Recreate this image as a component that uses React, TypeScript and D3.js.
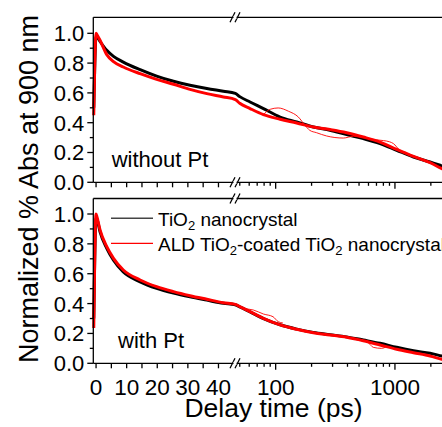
import React, { useRef, useEffect } from 'react'
import { select, scaleLinear, scaleLog, line, curveMonotoneX } from 'd3'

const fitTimes = [-0.75, 0, 0.3, 1.3, 3.5, 5.7, 8.9, 14.4, 19.8, 25.3, 30.7, 36.2, 41.6, 45.5,
  50, 61, 79, 109, 150, 207, 285, 394, 543, 750, 1034, 1430, 1970, 2470, 3200]

// without Pt
const topBlack = [0.5, 0.97, 0.975, 0.945, 0.886, 0.845, 0.807, 0.756, 0.713, 0.678, 0.651, 0.629, 0.611, 0.597,
  0.575, 0.539, 0.495, 0.438, 0.405, 0.371, 0.349, 0.32, 0.293, 0.26, 0.215, 0.17, 0.136, 0.11, 0.08]
const topRed = [0.45, 1.0, 0.99, 0.953, 0.857, 0.81, 0.774, 0.729, 0.691, 0.658, 0.624, 0.595, 0.573, 0.555,
  0.53, 0.495, 0.454, 0.423, 0.398, 0.371, 0.354, 0.333, 0.304, 0.27, 0.221, 0.174, 0.132, 0.092, 0.06]

// with Pt
const bottomBlack = [0.3, 0.97, 0.965, 0.88, 0.77, 0.69, 0.612, 0.546, 0.502, 0.47, 0.445, 0.423, 0.402, 0.392,
  0.378, 0.344, 0.3, 0.258, 0.229, 0.207, 0.192, 0.177, 0.156, 0.134, 0.107, 0.084, 0.067, 0.049, 0.03]
const bottomRed = [0.236, 1.0, 0.98, 0.893, 0.781, 0.703, 0.625, 0.558, 0.513, 0.48, 0.453, 0.429, 0.406, 0.395,
  0.38, 0.346, 0.301, 0.257, 0.228, 0.205, 0.19, 0.174, 0.151, 0.123, 0.094, 0.071, 0.049, 0.027, 0.01]

// thin raw traces where they stray from the fit
const rawTopRedTimes = [79, 90, 105, 128, 155, 176, 193, 220, 267, 369, 448, 540, 620, 700, 800, 900, 970, 1100, 1250]
const rawTopRedValues = [0.455, 0.49, 0.499, 0.477, 0.438, 0.383, 0.349, 0.333, 0.311, 0.297, 0.309, 0.3, 0.291, 0.285, 0.28, 0.272, 0.26, 0.215, 0.2]
const rawBottomRedTimes = [55, 65, 79, 95, 105, 115]
const rawBottomRedValues = [0.365, 0.357, 0.33, 0.312, 0.279, 0.27]
const rawBottomRedTimes2 = [520, 605, 658, 772, 850]
const rawBottomRedValues2 = [0.155, 0.134, 0.107, 0.1, 0.112]

const yMajor = [0, 0.2, 0.4, 0.6, 0.8, 1.0]
const yMinor = [0.1, 0.3, 0.5, 0.7, 0.9]
const linTicks = [0, 5, 10, 15, 20, 25, 30, 35, 40]
const linLabels = [0, 10, 20, 30, 40]
const logMajor = [100, 1000]
const logMinor = [50, 60, 70, 80, 90, 200, 300, 400, 500, 600, 700, 800, 900, 2000, 3000]

const font = '"Liberation Sans", Arial, sans-serif'

const App = () => {
  const svgRef = useRef<SVGSVGElement>(null)

  useEffect(() => {
    const svg = select(svgRef.current)
    svg.selectAll('*').remove()

    const left = 93.3
    const right = 460
    const xLin = scaleLinear().domain([-0.9, 45.5]).range([left, 235.3])
    const xLog = scaleLog().domain([47.5, 3200]).range([237.1, 455.2])
    const xPos = (t: number) => (t <= 46.5 ? xLin(t) : xLog(t))
    const breakX = 235

    const panels = [
      { top: 17.3, bottom: 182.3, y: scaleLinear().domain([0, 1]).range([182.3, 33.3]),
        black: topBlack, red: topRed, label: 'without Pt', lx: 111.7, ly: 166.7,
        raw: [[rawTopRedTimes, rawTopRedValues]], tickLabels: false },
      { top: 198.5, bottom: 363.3, y: scaleLinear().domain([0, 1]).range([363.3, 214]),
        black: bottomBlack, red: bottomRed, label: 'with Pt', lx: 118, ly: 348.3,
        raw: [[rawBottomRedTimes, rawBottomRedValues], [rawBottomRedTimes2, rawBottomRedValues2]], tickLabels: true },
    ]

    panels.forEach(p => {
      const g = svg.append('g')
      const path = line<[number, number]>()
        .x(d => xPos(d[0]))
        .y(d => p.y(d[1]))
        .curve(curveMonotoneX)

      const pts = (ts: number[], vs: number[]) => ts.map((t, i) => [t, vs[i]] as [number, number])

      g.append('path').attr('d', path(pts(fitTimes, p.black)))
        .attr('fill', 'none').attr('stroke', '#000').attr('stroke-width', 3)
      p.raw.forEach(([ts, vs]) => {
        g.append('path').attr('d', path(pts(ts, vs)))
          .attr('fill', 'none').attr('stroke', '#ff0000').attr('stroke-width', 0.9)
      })
      g.append('path').attr('d', path(pts(fitTimes, p.red)))
        .attr('fill', 'none').attr('stroke', '#ff0000').attr('stroke-width', 3)

      // frame
      const ax = g.append('g').attr('stroke', '#000').attr('stroke-width', 1.3)
      ax.append('line').attr('x1', left).attr('x2', left).attr('y1', p.top).attr('y2', p.bottom)
      ax.append('line').attr('x1', left).attr('x2', right).attr('y1', p.top).attr('y2', p.top)
      ax.append('line').attr('x1', left).attr('x2', right).attr('y1', p.bottom).attr('y2', p.bottom)

      // y ticks
      yMajor.forEach(v => {
        ax.append('line').attr('x1', left - 6).attr('x2', left).attr('y1', p.y(v)).attr('y2', p.y(v))
      })
      yMinor.forEach(v => {
        ax.append('line').attr('x1', left - 3.5).attr('x2', left).attr('y1', p.y(v)).attr('y2', p.y(v))
      })
      g.selectAll('.ylab').data(yMajor).join('text')
        .attr('x', left - 9).attr('y', v => p.y(v)).attr('dy', '0.36em')
        .attr('text-anchor', 'end').attr('font-family', font).attr('font-size', 22)
        .text(v => v.toFixed(1))

      // x ticks
      linTicks.forEach(t => {
        ax.append('line').attr('x1', xLin(t)).attr('x2', xLin(t)).attr('y1', p.bottom).attr('y2', p.bottom + 5)
      })
      logMajor.forEach(t => {
        ax.append('line').attr('x1', xLog(t)).attr('x2', xLog(t)).attr('y1', p.bottom).attr('y2', p.bottom + 6.5)
      })
      logMinor.forEach(t => {
        ax.append('line').attr('x1', xLog(t)).attr('x2', xLog(t)).attr('y1', p.bottom).attr('y2', p.bottom + 3.5)
      })

      // axis break marks
      ;[p.top, p.bottom].forEach(yy => {
        g.append('rect').attr('x', breakX - 1.5).attr('y', yy - 1.5).attr('width', 3).attr('height', 3).attr('fill', '#fff')
        ;[-2.5, 2.5].forEach(off => {
          ax.append('line')
            .attr('x1', breakX + off - 2.5).attr('y1', yy + 5)
            .attr('x2', breakX + off + 2.5).attr('y2', yy - 5)
        })
      })

      if (p.tickLabels) {
        g.selectAll('.xl').data(linLabels).join('text')
          .attr('x', t => xLin(t)).attr('y', 394.5)
          .attr('text-anchor', 'middle').attr('font-family', font).attr('font-size', 22.5)
          .text(t => String(t))
        g.selectAll('.xg').data(logMajor).join('text')
          .attr('x', t => xLog(t)).attr('y', 394.5)
          .attr('text-anchor', 'middle').attr('font-family', font).attr('font-size', 22.5)
          .text(t => String(t))
      }

      g.append('text').attr('x', p.lx).attr('y', p.ly)
        .attr('font-family', font).attr('font-size', 22).text(p.label)
    })

    // legend
    const lg = svg.append('g').attr('font-family', font).attr('font-size', 19)
    lg.append('line').attr('x1', 111).attr('x2', 153).attr('y1', 218.3).attr('y2', 218.3)
      .attr('stroke', '#444').attr('stroke-width', 1.5)
    lg.append('line').attr('x1', 111).attr('x2', 153).attr('y1', 243.3).attr('y2', 243.3)
      .attr('stroke', '#ff0000').attr('stroke-width', 1.3)
    const t1 = lg.append('text').attr('x', 158).attr('y', 225.5)
    t1.append('tspan').text('TiO')
    t1.append('tspan').attr('font-size', 13).attr('dy', 4).text('2')
    t1.append('tspan').attr('dy', -4).text(' nanocrystal')
    const t2 = lg.append('text').attr('x', 158).attr('y', 250.5)
    t2.append('tspan').text('ALD TiO')
    t2.append('tspan').attr('font-size', 13).attr('dy', 4).text('2')
    t2.append('tspan').attr('dy', -4).text('-coated TiO')
    t2.append('tspan').attr('font-size', 13).attr('dy', 4).text('2')
    t2.append('tspan').attr('dy', -4).text(' nanocrystal')

    // axis titles
    svg.append('text').attr('x', 273.5).attr('y', 417)
      .attr('text-anchor', 'middle').attr('font-family', font).attr('font-size', 26.5)
      .text('Delay time (ps)')
    svg.append('text').attr('transform', 'translate(38,189) rotate(-90)')
      .attr('text-anchor', 'middle').attr('font-family', font).attr('font-size', 27)
      .text('Normalized % Abs at 900 nm')
  }, [])

  return (
    <svg ref={svgRef} width={442} height={427}
      style={{ position: 'absolute', left: 0, top: 0, background: '#fff' }} />
  )
}

export default App
